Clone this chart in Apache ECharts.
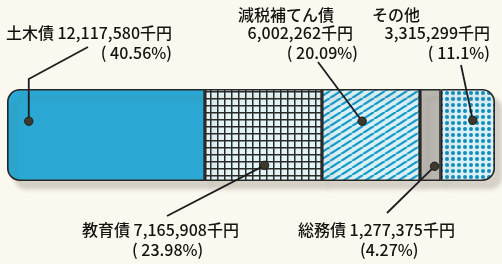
<!DOCTYPE html>
<html>
<head>
<meta charset="utf-8">
<script src="https://cdn.jsdelivr.net/npm/echarts@6/dist/echarts.min.js"></script>
<style>
  html, body { margin: 0; background: #fbf8f0; }
  #chart { width: 502px; height: 264px; }
</style>
</head>
<body>
<div id="chart"></div>
<script>
// data
const names = ['土木債', '教育債', '減税補てん債', '総務債', 'その他'];
const amounts = [12117580, 7165908, 6002262, 1277375, 3315299];
const shares = [40.56, 23.98, 20.09, 4.27, 11.1];

const FONT = '500 16px "Noto Sans CJK JP", "Noto Sans", sans-serif';
const INK = '#15120f';

function tile(w, h, draw) {
  let c = document.createElement('canvas');
  c.width = w;
  c.height = h;
  draw(c.getContext('2d'), w, h);
  return { image: c, repeat: 'repeat' };
}

let fills = [
  '#2aa8d3',
  tile(7, 7, (g, w, h) => {
    g.fillStyle = '#e2f4f6';
    g.fillRect(0, 0, w, h);
    g.fillStyle = '#2a2a2a';
    g.fillRect(0, 0, 1.5, h);
    g.fillRect(0, 0, w, 1.5);
  }),
  tile(11, 7, (g, w, h) => {
    g.fillStyle = '#d8f0f6';
    g.fillRect(0, 0, w, h);
    g.strokeStyle = '#1c9bc7';
    g.lineWidth = 2.3;
    for (let k = -1; k <= 1; k++) {
      g.beginPath();
      g.moveTo(k * w, h);
      g.lineTo(k * w + w, 0);
      g.stroke();
    }
  }),
  '#b8b6af',
  tile(6, 6, (g, w, h) => {
    g.fillStyle = '#d8f0f6';
    g.fillRect(0, 0, w, h);
    g.fillStyle = '#168cbd';
    g.beginPath();
    g.arc(3, 3, 2, 0, Math.PI * 2);
    g.fill();
  })
];

// annotation layout: dot position inside segment (fraction), leader end, text lines
let notes = [
  { fx: 0.11, fy: 0.35, path: [['dot', 79], [88, 47]],
    lines: [{ t: 'amount', x: 172, y: 33, a: 'right' }, { t: 'share', x: 172, y: 53, a: 'right' }] },
  { fx: 0.51, fy: 0.83, path: [[167, 216]],
    lines: [{ t: 'amount', x: 82, y: 230, a: 'left' }, { t: 'share', x: 132, y: 250, a: 'left' }] },
  { fx: 0.41, fy: 0.35, path: [[318, 62]],
    lines: [{ t: 'name', x: 238, y: 15, a: 'left' }, { t: 'value', x: 353, y: 33, a: 'right' }, { t: 'share', x: 358, y: 53, a: 'right' }] },
  { fx: 0.7, fy: 0.84, path: [[387, 213]], tight: true,
    lines: [{ t: 'amount', x: 298, y: 230, a: 'left' }, { t: 'share', x: 360, y: 250, a: 'left' }] },
  { fx: 0.59, fy: 0.34, path: [[461, 65]],
    lines: [{ t: 'name', x: 372, y: 15, a: 'left' }, { t: 'value', x: 490, y: 33, a: 'right' }, { t: 'share', x: 490, y: 53, a: 'right' }] }
];

let chart = echarts.init(document.getElementById('chart'));

let series = names.map((n, i) => {
  let radius = 0;
  if (i === 0) radius = [12, 0, 0, 12];
  if (i === names.length - 1) radius = [0, 12, 12, 0];
  return {
    type: 'bar',
    name: n,
    stack: 'total',
    barWidth: '100%',
    silent: true,
    data: [shares[i]],
    itemStyle: {
      color: fills[i],
      borderColor: '#262626',
      borderWidth: 1.6,
      borderRadius: radius,
      shadowColor: 'rgba(110, 100, 85, 0.26)',
      shadowOffsetX: 7,
      shadowOffsetY: 8,
      shadowBlur: 4
    }
  };
});

chart.setOption({
  animation: false,
  backgroundColor: '#fbf8f0',
  grid: { left: 7, right: 7, top: 89, bottom: 83 },
  xAxis: { type: 'value', min: 0, max: 100, show: false },
  yAxis: { type: 'category', data: ['構成'], show: false },
  series: series
});

function text(str, x, y, align) {
  return {
    type: 'text', z: 20, silent: true,
    style: { text: str, x: x, y: y, font: FONT, fill: INK,
      align: align, verticalAlign: 'middle', textAlign: align, textVerticalAlign: 'middle' }
  };
}

let els = [];
let start = 0;
let yc = chart.convertToPixel({ yAxisIndex: 0 }, 0);
let bandTop = yc - 46;
names.forEach((n, i) => {
  let x0 = chart.convertToPixel({ xAxisIndex: 0 }, start);
  let x1 = chart.convertToPixel({ xAxisIndex: 0 }, start + shares[i]);
  start += shares[i];
  let note = notes[i];
  let dx = x0 + (x1 - x0) * note.fx;
  let dy = bandTop + 92 * note.fy;
  let pts = [[dx, dy]].concat(note.path.map(p => [p[0] === 'dot' ? dx : p[0], p[1]]));
  els.push({ type: 'polyline', z: 18, silent: true, shape: { points: pts },
    style: { stroke: '#1d1d1d', lineWidth: 1.8, fill: null } });
  els.push({ type: 'circle', z: 19, silent: true, shape: { cx: dx, cy: dy, r: 4.2 },
    style: { fill: '#3b3a2c', stroke: '#1d1d1d', lineWidth: 1 } });
  let value = amounts[i].toLocaleString('en-US') + '千円';
  note.lines.forEach(l => {
    let s;
    if (l.t === 'amount') s = n + ' ' + value;
    else if (l.t === 'name') s = n;
    else if (l.t === 'value') s = value;
    else s = '(' + (note.tight ? '' : ' ') + shares[i] + '%)';
    els.push(text(s, l.x, l.y, l.a));
  });
});

chart.setOption({ graphic: { elements: els } });
</script>
</body>
</html>
